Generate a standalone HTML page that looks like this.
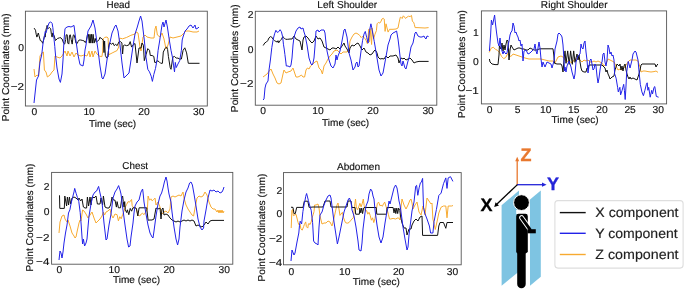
<!DOCTYPE html>
<html><head><meta charset="utf-8"><style>
html,body{margin:0;padding:0;background:#fff;}
svg{display:block;font-family:"Liberation Sans", sans-serif;filter:blur(0.3px);text-rendering:geometricPrecision;}
.t{stroke:#111111;stroke-width:0.15px;}
</style></head><body>
<svg width="685" height="290" viewBox="0 0 685 290" fill="#111111">

<clipPath id="c_head"><rect x="25.4" y="11.2" width="181.9" height="94.8"/></clipPath>
<g><g clip-path="url(#c_head)" fill="none" stroke-width="1.0" stroke-linejoin="round">
<polyline points="34,69 35,77 37,75 38.6,76 40,56 42,53 43.4,52 44.4,70 46,72 47.4,77 50,75 52,72 54,70 55,56 57,57 60,58 62,56 65,51 67,56 68,51 70,56 72,52 74,57 76,53 78,55 81,56 84,55 87,56 89,51 90,57 92,51 93,57 95,51 97,54 99.1,56 101.9,56.7 102.6,52 103.3,38.8 104.7,37.4 107,37 108.1,38 108.5,50 108.8,54.7 112.9,52.6 117.1,50.5 118.7,47 119.6,38.1 122.6,38.8 126.7,37.4 130.9,35.3 135,34 136,32 138,33 140,47 141,51 143,37 145,35 147,37 151,38 154,38 155,29 156,26 157.4,35 160,37 162,33 164,39 166,49 168,45 170,37 173,38 177,37 181,36 184,33 186,31 189,31 193,32 197,32 199,31" stroke="#f7aa30"/>
<polyline points="34.1,28.1 35.5,30.2 36.2,34.3 36.9,37.1 38.3,33 39,35.7 40.3,40.5 41.7,41.2 42.7,43.3 43.8,39.1 44.5,35.7 45.2,37.1 45.9,30.2 46.6,27.4 47.2,25.3 47.9,28.8 49.3,27.4 50.7,28.8 51.4,34.3 52.1,37.1 52.8,32.9 54.1,35.7 55.5,40.5 57.6,38.4 59.7,37.8 60,37.4 62.1,39 63.6,43.1 64.7,44.1 65.7,39.5 66.2,34.8 67.2,34.8 67.8,43.1 68.8,44.1 69.5,35.3 70.3,34.8 71.2,39.5 72.2,44.1 73.2,35.3 74,34.8 75,38.4 76,43.1 77.1,43.6 78.1,41.5 79.1,40 80.7,40 82.8,40.5 84.3,41 85.3,42.6 86.3,40.5 87.4,35.3 88.4,34.3 89.3,43.1 90,34.3 90.8,43.1 91.5,34.3 92.4,43.1 93.1,34.3 94.1,43.1 95.2,38.4 96.2,42.1 97.7,41 99.3,39.5 99.8,37.4 101.9,38.8 103.3,40.2 104,52.6 104.6,41 105.3,55.3 106.7,58.1 108.1,56.7 108.8,45.7 109.5,42.9 111.6,44.3 112.9,42.9 114.3,45.7 115.7,44.3 117.1,45.7 119.1,41.6 120.5,41.6 121.9,42.9 122.6,54 123.3,45.7 124.7,45 126.7,45.7 128.8,45 130.2,41.6 131.6,47.1 133.6,44.3 135,43.6 137,63 139,48 141,48 142,43 143.4,45.2 144.3,60.7 146,54.7 147.8,48.6 149.5,50.3 150.3,55.5 152.1,55.5 153.8,56.4 154.7,62.4 156.4,62.4 157.2,60.7 159,61.6 160.7,63.3 162.4,63.3 163.3,52.1 165,48.6 166.7,46.9 167.6,49.5 168.4,56.4 170.2,67.6 171,69.3 172.8,57.2 174.5,56.4 176.2,58.1 177.9,58.1 179.7,59 181.4,59 183.1,50.3 184.8,47.8 186.6,52.9 188.3,63.3 199.5,63.3" stroke="#111111"/>
<polyline points="34,103 36.5,80 38.5,76 40,62 41.7,55 43.1,42.6 44.5,35.7 45.2,31.6 45.9,32.9 47.2,28.8 47.9,26 49.3,22.6 50.7,21.9 52.1,23.3 52.8,27.4 53.4,32.9 54.1,39.8 54.8,46.7 55.5,55 57,68 59,79 60.4,82.4 62,74 63,60 64,40 65,28.6 67,27 69,26.5 71,27 73,26 74,25.4 76,41 78,55 80,64.6 83,66 84,60 85,50 86,45 88,31 91,26 93,20 95,28 97,43 98,50 100,66 102,78 103,79 105,74 107,60 109,47 112,33 115,26 116,25 118,31 120,45 122,63 124,78 126,76 129,73 131,60 133,46 135,34 137,28 139,21 140.6,16 142,21 144.3,40 146,57.2 147.8,69.3 149.5,71.9 151.2,76.2 152.4,81.4 153.8,74.5 155.5,68.4 157.2,59 158.1,50.3 159.8,40 160.5,35 162,25 163,22 164,27 166,20 167.4,27 169.3,40 171,50.3 172.8,59 173.6,65.9 174.5,71.9 175.3,62.4 176.2,67.6 177.9,64.1 179.7,60.7 181.4,50.3 182.2,40 183,37 185,31 187,29 189,26 191,25 193,28 195,25 196,29 198,28 199,27" stroke="#2222e8"/>
</g></g>
<rect x="25.4" y="11.2" width="181.9" height="94.8" fill="none" stroke="#555" stroke-width="0.9"/>
<text class="t" x="34.3" y="115.3" text-anchor="middle" font-size="10.0" textLength="5.73" lengthAdjust="spacingAndGlyphs" >0</text>
<text class="t" x="89.1" y="115.3" text-anchor="middle" font-size="10.0" textLength="11.45" lengthAdjust="spacingAndGlyphs" >10</text>
<text class="t" x="143.9" y="115.3" text-anchor="middle" font-size="10.0" textLength="11.45" lengthAdjust="spacingAndGlyphs" >20</text>
<text class="t" x="198.7" y="115.3" text-anchor="middle" font-size="10.0" textLength="11.45" lengthAdjust="spacingAndGlyphs" >30</text>
<text class="t" x="24.0" y="50.699999999999996" text-anchor="end" font-size="10.0" textLength="5.73" lengthAdjust="spacingAndGlyphs" >0</text>
<text class="t" x="24.0" y="89.5" text-anchor="end" font-size="10.0" textLength="13.27" lengthAdjust="spacingAndGlyphs" >−2</text>
<text class="t" x="118.3" y="7.9" text-anchor="middle" font-size="10.0" textLength="23.53" lengthAdjust="spacingAndGlyphs" >Head</text>
<text class="t" x="112.6" y="127.0" text-anchor="middle" font-size="10.0" textLength="47.08" lengthAdjust="spacingAndGlyphs" >Time (sec)</text>
<text class="t" transform="translate(8.7,67.3) rotate(-90)" text-anchor="middle" font-size="10.0" textLength="107.93" lengthAdjust="spacingAndGlyphs">Point Coordinates (mm)</text>
<clipPath id="c_ls"><rect x="255.3" y="11.3" width="181.5" height="93.9"/></clipPath>
<g><g clip-path="url(#c_ls)" fill="none" stroke-width="1.0" stroke-linejoin="round">
<polyline points="263,77 267,74 270,70 271,69 273,74 275,78 277,83 279,84 281,83 283,74 284,70 286,73 288,72 291,71 293,68 295,74 296,77 298,77 300,76 301.4,75 303,77 304.6,77 306,70 307.4,68 309,69 310.6,66 313,64 315,62 317,61 319,68 321,70 322.4,74 324,66 326,63 328,59 330,56 332,54 334,51 337,50 339,52 341,54 343,52 345,52 347,52 349,50 350,41 352,37 354,34 356,33 358,34 359.8,35.5 361.2,37.6 362.6,36.2 364.7,38.3 366,40.3 367.4,43.8 368.8,29.3 369.5,41.7 370.2,28.6 371.6,44.5 372.2,27.9 373.6,39 375,34.1 376.4,30.7 377.1,23.8 378.4,22.4 379.8,23.1 381.2,21 381.9,19 383.3,18.3 384.2,19 385.1,31.4 386,23.8 387,27.9 388.1,32.1 389.5,29.3 393,29.3 396,29 398,28 399.2,22 400.3,17.2 401.4,17.6 402.2,18.5 403.3,15.8 404.5,17 405.6,18.5 407.1,17 408.6,16.2 410.1,16.6 411.5,15.4 412.4,21.4 413.6,22.2 414.4,24.6 415.1,27.6 417,27.6 421,27.8 425,28 428.6,27.6" stroke="#f7aa30"/>
<polyline points="263.2,45.5 264.9,42.8 266.3,42.1 267.7,40.7 269,37.9 270.4,36.6 271.8,37.2 273.2,39.3 274.6,40.7 275.9,41.4 277.3,42.1 278,40.7 278.7,42.8 280.1,40.7 281.4,39.3 282.8,36.6 284.2,37.9 285.6,39.3 287.7,39.3 290,39 292,39 294,36 296,39 298,40 300,41 302,50 303,40 304,37 306,36 308,38 310,41 312,43 314,41 316,36 318,39 320,38 322,41 324,47 326,48 328,49 330,50 332,48 334,48 336,49 338,47 340,49 342,46 344,43 345,46 347,49 349,53 350,48 352,45 354,46 356,44 358,43 360,46 362,50 364,48 366,52 368,53 370,55 372,54 374,51 375,50 376,51 377,53 378,57 380,59 382,58.6 384,59 386,56 388,58 390,56 393,56 396,55 398,58 399,63 401,58 403,59 404,58 406,60 408,59 410,58 412,60 414,63 416,62 419,61.4 428.6,61.4" stroke="#111111"/>
<polyline points="263,100 264,99 265,88 266,84 268,81 269,70 270.4,60 271.8,47.6 273.2,39.3 274.6,33.8 275.9,30.3 277.3,32.4 278.7,31.7 280.1,29.7 281.4,31.7 282.6,36.6 283.5,44.8 284.2,49 284.9,54.5 285.6,60 286.3,66 288,66 290,67 291,65 292,58 293,45 294,37 296,31 298,28 300,27 301,29 303,28 304,32 305,35 307,45 309,58 311,64 312,65 313,63 314,58 315,46 316,31 318,30 319,32 321,30 324,30 325,33 326,43 327,51 329,60 331,66 333,68 335,64 336,55 337,60 338,56 340,51 342,41 344,30 345,29 347,37 349,53 351,60 353,70 355,67 356,63 357,62 358,67 359,66 361.2,50 362.6,40.3 364,34.1 365.3,31.4 366.7,37.6 368.1,43.1 369.5,30.7 370.9,23.8 371.6,27.2 372.9,34.1 374.3,41.7 375.7,50 377,58 379,70 381,76 383,73 385,62 387,51 388,45 390,39 391,35 393,33 395,32 396.6,31 398,39 399,47 400,56 401,64 402,66 403,61 405,68 406,69 408,61 409,58 411,47 413,43 415,33 416,32 418,36 420,37 422,37 424,36 425,38 426,39 427,36 428.6,36.6" stroke="#2222e8"/>
</g></g>
<rect x="255.3" y="11.3" width="181.5" height="93.9" fill="none" stroke="#555" stroke-width="0.9"/>
<text class="t" x="263.1" y="114.2" text-anchor="middle" font-size="10.0" textLength="5.73" lengthAdjust="spacingAndGlyphs" >0</text>
<text class="t" x="317.9" y="114.2" text-anchor="middle" font-size="10.0" textLength="11.45" lengthAdjust="spacingAndGlyphs" >10</text>
<text class="t" x="373.0" y="114.2" text-anchor="middle" font-size="10.0" textLength="11.45" lengthAdjust="spacingAndGlyphs" >20</text>
<text class="t" x="428.1" y="114.2" text-anchor="middle" font-size="10.0" textLength="11.45" lengthAdjust="spacingAndGlyphs" >30</text>
<text class="t" x="253.4" y="18.3" text-anchor="end" font-size="10.0" textLength="5.73" lengthAdjust="spacingAndGlyphs" >2</text>
<text class="t" x="253.4" y="52.8" text-anchor="end" font-size="10.0" textLength="5.73" lengthAdjust="spacingAndGlyphs" >0</text>
<text class="t" x="253.4" y="87.1" text-anchor="end" font-size="10.0" textLength="13.27" lengthAdjust="spacingAndGlyphs" >−2</text>
<text class="t" x="347.3" y="7.6" text-anchor="middle" font-size="10.0" textLength="59.87" lengthAdjust="spacingAndGlyphs" >Left Shoulder</text>
<text class="t" x="345.6" y="126.3" text-anchor="middle" font-size="10.0" textLength="47.08" lengthAdjust="spacingAndGlyphs" >Time (sec)</text>
<text class="t" transform="translate(238.3,58.2) rotate(-90)" text-anchor="middle" font-size="10.0" textLength="107.93" lengthAdjust="spacingAndGlyphs">Point Coordinates (mm)</text>
<clipPath id="c_rs"><rect x="481.4" y="10.9" width="185.20000000000005" height="93.0"/></clipPath>
<g><g clip-path="url(#c_rs)" fill="none" stroke-width="1.0" stroke-linejoin="round">
<polyline points="489.2,52.4 491.2,48.2 493.3,47.2 495.4,49.3 497.5,50.3 499.5,52.4 501.6,56.5 503.7,58.6 505.7,57.5 507.8,53.4 509.9,56.5 512,55.5 513,54 516,55 519,56 522,57 525,58 529,59 533,59 537,59 541,59 545,60 549,61 553,61 555,63 558,57 561,56 563,57 565,60 567,61 569,62 571,62 572,63 574,60 576,59 578,58 580,60 582,62 584,60 586,61 588,60 590,62 592,62 594,61 596,62 598,61 600,62 602,63 604,66 606,64 608,59 610,60 612,61 614,62 616,66 618,70 620,69 622,70 624,68 626,65 628,62 630,60 632,60 634,60 636,60 638,61 640,67 641,72 643,71 645,71 648,71.6 651,72 654,71.6 656,71 658,72.4" stroke="#f7aa30"/>
<polyline points="489.4,59 490,62 492,64 495,64.6 498,64.6 499,55 499.4,46 501,49 502,43 503,51 504,45 505,50 506,44 507,40 508,41 509,60 510,50 511,45 512,47 514,50 516,49 518,48 520,48 522,49 524,49 526,50 528,50 530,48 532,49 534,50 537,50 539,49 541,48.8 545,48.8 549,48.8 553,48.8 553.8,55 554.5,63.3 557,64 561,64 562,66 563,72 564,60 565,50.9 566,63.3 567.7,50.9 569.2,64.3 570.6,50.9 572.3,64.3 573.7,50.9 575,62.3 576,58 577,54 578,60 579,55 580,62 581,68 582,71 584,72 586,72 587,68 588,69 589,65 591,65 594,65 597,65 600,65 602,65 604,67 605,68 606,72 607,70 608,74 609,76 610,79 612,77 614,76 615,70 617,64 619,66 620,64 621,70 622,66 623,71 624,66 625,64 626,70 627,74 628,77 629,79 630,77 631,79 633,78 635,79 637,80 639,74 640,70 641,65 642,64 655,64 656,67 657,65 658,64" stroke="#111111"/>
<polyline points="489.4,51 490.6,35 491.4,20 492.6,25 493.4,21 494.6,15 495.4,23 496.6,33 498,43 499,46 500,38 501,47 502,51 503,54 504,51 505,53 506,54 507,53 508,46 509,41 510,35 511,32 512,31 513,23 514,26 515,33 516,32 517,35 518,37 519,41 520,40 521,46 522,44 523,61 524,51 526,50 528,54 530,53 532,51 534,49 535,44 536,51 537,54 539,42 540,48 541,59 542,67 543,62 545,67 547,62 549,63 551,64 552,68 554,61 555,49 557,41 558,34 559,33 561,35 562,37 563,45 564,60 564.5,71 565,67 566,72 567,66 569,61 571,67 572,72 574,79 575,74 576,62 578,56 580,54 581,44 582,48 583,49 584,43 585,41 586,52 587,60 588,73 589,66 590,60 591,59 592,64 593,70 594,69 595,64 596,66 597,76 598,83 599,78 600,70 601,64 602,62 603,54 604,53 605,62 606,66 607,60 608,45 609,48 610,54 611,52 612,56 613,55 614,60 614.6,73.7 616.1,78.2 617.6,87.3 618.3,91.9 619.9,87.3 620.6,94.9 622.1,90.3 623.7,84.3 624.4,90.3 625.2,99.5 625.9,88 626.7,72.1 628.2,61.5 629,64 630,68 631,64 632,60 633,54 635,51 636,52 637,56 638,60 638.8,69.1 640.3,84.3 641.9,91.9 643.4,95.7 644.9,90.3 646.4,84.3 647.2,82.8 647.9,90.3 648.7,87.3 650.2,97.2 651.7,90.3 652.5,94 654,87.3 654.8,86.6 656.3,96.4 658.6,97.2" stroke="#2222e8"/>
</g></g>
<rect x="481.4" y="10.9" width="185.2" height="93.0" fill="none" stroke="#555" stroke-width="0.9"/>
<text class="t" x="489.6" y="113.2" text-anchor="middle" font-size="10.0" textLength="5.73" lengthAdjust="spacingAndGlyphs" >0</text>
<text class="t" x="517.7" y="113.2" text-anchor="middle" font-size="10.0" textLength="5.73" lengthAdjust="spacingAndGlyphs" >5</text>
<text class="t" x="545.8" y="113.2" text-anchor="middle" font-size="10.0" textLength="11.45" lengthAdjust="spacingAndGlyphs" >10</text>
<text class="t" x="573.8" y="113.2" text-anchor="middle" font-size="10.0" textLength="11.45" lengthAdjust="spacingAndGlyphs" >15</text>
<text class="t" x="602.0" y="113.2" text-anchor="middle" font-size="10.0" textLength="11.45" lengthAdjust="spacingAndGlyphs" >20</text>
<text class="t" x="630.1" y="113.2" text-anchor="middle" font-size="10.0" textLength="11.45" lengthAdjust="spacingAndGlyphs" >25</text>
<text class="t" x="658.2" y="113.2" text-anchor="middle" font-size="10.0" textLength="11.45" lengthAdjust="spacingAndGlyphs" >30</text>
<text class="t" x="478.8" y="36.4" text-anchor="end" font-size="10.0" textLength="5.73" lengthAdjust="spacingAndGlyphs" >1</text>
<text class="t" x="478.8" y="65.3" text-anchor="end" font-size="10.0" textLength="5.73" lengthAdjust="spacingAndGlyphs" >0</text>
<text class="t" x="478.8" y="94.3" text-anchor="end" font-size="10.0" textLength="13.27" lengthAdjust="spacingAndGlyphs" >−1</text>
<text class="t" x="574.2" y="7.6" text-anchor="middle" font-size="10.0" textLength="66.64" lengthAdjust="spacingAndGlyphs" >Right Shoulder</text>
<text class="t" x="575.1" y="122.7" text-anchor="middle" font-size="10.0" textLength="47.08" lengthAdjust="spacingAndGlyphs" >Time (sec)</text>
<text class="t" transform="translate(464.6,64.0) rotate(-90)" text-anchor="middle" font-size="10.0" textLength="107.93" lengthAdjust="spacingAndGlyphs">Point Coordinates (mm)</text>
<clipPath id="c_chest"><rect x="51.6" y="172.4" width="181.20000000000002" height="91.79999999999998"/></clipPath>
<g><g clip-path="url(#c_chest)" fill="none" stroke-width="1.0" stroke-linejoin="round">
<polyline points="59,233 60,222 62,216 64,215 65,219 67,222 68,220 70,226 72,233 74,236 75,238 76,237 77,232 79,223 80,220 81,221 82.6,210 84,211 86,214 88,218 90,215 92,212 94,218 96,223 98,221 100,219 102,216 103.4,212 104.6,215 106,212 108,211 110,209 111,214 112,216 113,218 115,214 117.1,214.7 118.4,220.9 119.8,216.7 121.2,218.8 122.6,214.7 124,211.2 125.3,207.1 126.7,204.3 128.1,201.6 129.5,202.2 130.9,200.2 131.6,199.5 132.2,205.7 133.6,207.8 135,207.1 136.4,209.1 137.8,214.7 139.8,216 141.2,214 142.6,213.3 144,214.7 145.3,212.6 147.4,209.1 148.1,196 149.5,200.2 150.9,198.8 152.2,200.9 153.6,199.5 155,198.1 156,205 158,202 160,207 162,214 164,212 166,211 168,213 170,209 171,197 173,196 175,197 177,196 179,195 181,196 183,192 184,198 186,205 188,209 190,212 192,215 193.6,216 195,208 197,198 199,196 201,197 203,196 205,192 207,195 209,202 211,207 213,209 215,209 217,212 218,210 219,213 220,210 221,213 222,210 223,213 224,211" stroke="#f7aa30"/>
<polyline points="59.5,195.3 59.8,208.4 62,208.4 64.3,208.4 64.8,196 66.6,206 67.4,197 68.6,205 69.4,197 70.6,204 72,198 74,197 76,198 78,200 79,198 80.6,201 82,199 83.4,207 85,208 86.6,208 87.4,197 88.6,206 90,197 91,205 92,197 93,197 94,198 96,196 97.4,204 100,204 101,198 102.6,205 103.4,196 105,207 107,208 109,208 110.6,205 112,197 113.4,200 115,200.2 116.4,207.1 117.1,201.6 118.4,207.8 120.5,207.8 121.9,197.4 122.6,196 123.3,201.6 124,207.1 124.7,201.6 125.3,209.8 126.7,212.6 127.4,209.8 128.8,214.7 130.2,208.4 131.6,211.2 132.9,207.8 135,207.8 136.4,208.4 137.8,216 139.1,207.8 142,207.8 146.7,207.8 148.1,220.2 150,220 152,220 154,219 156,208 158,209 160,208 161,219 162,209 163,208 164,215 166,214 168,215 170,218 172,220 174,221 176,222 178,221 180,222 182,221 184,220 186,221 188,220 190,221 192,220 194,221 196,226 198,225 200,226 202,227 204,225 206,222 208,224 210,221 212,220.4 224,220.4" stroke="#111111"/>
<polyline points="59,260 60,251 61,253 62,258 63,252 64,243 65.5,233 67,225 68.5,213 69.9,209.8 71.2,203 72.6,197.4 74,191.9 74.7,188.4 76.1,193.3 77.4,197.4 78.8,201.6 80.2,212.6 81.2,225 82,237 82.6,244 83.4,239 84.6,246 86,243 87,239 88,227 89,216 91,204 93,195 95,192 96.6,191 98.6,186.4 100,193 102,202 104,223 106,240 107,239 109,225 111,214 113,198 115,192 117,189 118.6,185.6 120,190 121,194 123,210 125,225 127,239 128.6,247 130,246 131,237 133,223 134,213 135,206 137,202 139,200 141,192 142.6,189 143,192 144,202 146,214 148,225 150,233 152,237 153,238 154,231 156,216 158,204 160,196 161.6,193 163,188 164.4,182 166,177 167,181 168,188 169,194 171,202 172,212 174,227 176,239 177.6,245 179,239 180,227 182,211 184,200 186,192 188,188 189.6,183 191,182 192.4,185 194,194 196,206 198,219 200,227 202,230 203.6,228 204,221 206,210 208,198 210,190 212,191 214,190 216,192 218,191 220,193 222,192 223,190 224,187" stroke="#2222e8"/>
</g></g>
<rect x="51.6" y="172.4" width="181.2" height="91.8" fill="none" stroke="#555" stroke-width="0.9"/>
<text class="t" x="59.4" y="273.4" text-anchor="middle" font-size="10.0" textLength="5.73" lengthAdjust="spacingAndGlyphs" >0</text>
<text class="t" x="114.3" y="273.4" text-anchor="middle" font-size="10.0" textLength="11.45" lengthAdjust="spacingAndGlyphs" >10</text>
<text class="t" x="169.1" y="273.4" text-anchor="middle" font-size="10.0" textLength="11.45" lengthAdjust="spacingAndGlyphs" >20</text>
<text class="t" x="224.3" y="273.4" text-anchor="middle" font-size="10.0" textLength="11.45" lengthAdjust="spacingAndGlyphs" >30</text>
<text class="t" x="49.4" y="190.20000000000002" text-anchor="end" font-size="10.0" textLength="5.73" lengthAdjust="spacingAndGlyphs" >2</text>
<text class="t" x="49.4" y="215.0" text-anchor="end" font-size="10.0" textLength="5.73" lengthAdjust="spacingAndGlyphs" >0</text>
<text class="t" x="49.4" y="240.5" text-anchor="end" font-size="10.0" textLength="13.27" lengthAdjust="spacingAndGlyphs" >−2</text>
<text class="t" x="49.4" y="265.40000000000003" text-anchor="end" font-size="10.0" textLength="13.27" lengthAdjust="spacingAndGlyphs" >−4</text>
<text class="t" x="135.2" y="169.4" text-anchor="middle" font-size="10.0" textLength="25.74" lengthAdjust="spacingAndGlyphs" >Chest</text>
<text class="t" x="136.5" y="283.2" text-anchor="middle" font-size="10.0" textLength="47.08" lengthAdjust="spacingAndGlyphs" >Time (sec)</text>
<text class="t" transform="translate(33.0,217.6) rotate(-90)" text-anchor="middle" font-size="10.0" textLength="107.93" lengthAdjust="spacingAndGlyphs">Point Coordinates (mm)</text>
<clipPath id="c_abd"><rect x="283.5" y="172.6" width="177.7" height="92.20000000000002"/></clipPath>
<g><g clip-path="url(#c_abd)" fill="none" stroke-width="1.0" stroke-linejoin="round">
<polyline points="291.2,228 291.9,210.2 292.6,209.5 293.3,215.7 294.7,215 296,214.3 296.7,217 298.1,222.6 298.8,224.7 300,224 300.9,228.8 302.2,230.2 303.6,226.7 304.3,224.7 305.7,221.9 306.4,226.7 307.8,228.1 308.4,224 309.1,223.3 309.8,224.7 311.2,221.9 311.9,218.4 313.3,214.3 314,211.6 314.6,205 316,205 318,204 319,208 320,216 322,224 324,223 326,223 328,221 330,222 332,226 334,218 336,209 337,205 338,203 340,215.4 342.4,212.3 343.6,217.8 345.4,222.6 347.2,223.2 349,222.6 350.9,220.2 352.1,219 353.3,217.8 354.5,206.9 355.5,199 356.3,206.9 357.5,209.9 358.7,206.9 359.9,203.3 361.1,206.9 362.3,203.3 363.3,199 364.2,205.7 365.4,211.1 366.6,210.5 367.8,214.2 369,212.3 370.2,215.4 371.4,220.2 372.6,217.8 373.8,222.6 375,218.4 376.2,210.5 377.4,203.3 378.6,202.1 379.9,205.7 381.1,205.1 382.3,206.3 383.5,203.9 384.7,202.1 385.9,206.3 387.1,209.3 388.3,214.2 389.5,219 390.7,219 393.1,218.4 395.6,219 398,217.8 399.8,219 400,220 401,207 402,199 404,205 406,209 408,205 410,200 411,199 412,203 413,209 415,205 417,202 419,212 421,215 423,206 424,209 425,215 427,198 429,201 431,204 432,203 432.9,219 435.3,229.5 437.6,219 438.8,213 441.1,207.2 443.5,206 445.8,206 447,217.8 448.2,206 451.7,206 453,205.5" stroke="#f7aa30"/>
<polyline points="291,207.2 293,207.4 294,213.6 295.3,213.6 296.7,207.4 303,207.4 304.3,201.2 307.8,201.2 309.1,207.4 313,207 323,207 325,201 330,201 331,207 347,207 348,201 351,201 352,207.5 355.1,207.5 355.7,214.2 359.3,214.2 359.9,208.1 360.8,212.9 361.7,208.1 362.6,213.6 363.6,208.1 364.2,207.5 376.2,207.5 376.8,214.2 386.5,214.2 387.1,207.5 393.1,207.5 394,212.9 395,208.1 395.8,213.6 396.8,208.1 397.7,213.6 398.6,208.1 399.8,210.5 400.5,216 402,223 404,228 406,228 407,235 409,229 411,229 412,225 414,221 416,219 418,221 420,217 422,216 422.6,235.4 437.6,235.4 438.8,226 440,222.5 443.5,222.5 445.8,228.3 447,222.5 453,222.5" stroke="#111111"/>
<polyline points="291,261 292,250 294,255 295,253 297,242 298.8,233 299.5,225.3 300.2,221.2 301.6,224 302.9,211.6 304.3,203.3 305,200.5 305.7,196.4 306.6,193.5 308.4,200.5 309.8,206 311.2,210.2 312.6,222.6 313.3,235 313.6,241 315,243 317,244 318,245 319,227 320,215 322,212 324,205 326,200 328,196 330,195 331,198 332,206 334,222 336,235 337.4,244 339,237 341,227 343,217 344,212 346,206 348,200 349.4,198 351,202 352,210 354,216 356,227 358,241 359,250 361,251 362,243 363,229 365,213 366,206 368,201 369,194 370.6,189 372,191 373,196 374,199 375,210 377,225 379,237 381,243 383,237 385,223 387,211 388,208 389,201 390,204 392,196 394,188 395.6,185 397,188 398,194 399,201 400,205 401,212 403,227 405,239 407,250 408,247 409,235 411,219 412,211 414,202 415.7,186.2 416.6,185.3 417.8,195.3 419.1,187.9 420.4,182.8 421.3,182.3 422.6,178.4 423.1,195 423.5,207.2 424.7,213 427,219 429.4,226 430.6,233 432.9,233 434.1,221.3 436.4,209.6 438.8,195.5 441.1,193.1 443.5,183.7 445.8,177.9 447,188.4 448.2,177.9 450.5,176.7 452.9,181.4" stroke="#2222e8"/>
</g></g>
<rect x="283.5" y="172.6" width="177.7" height="92.2" fill="none" stroke="#555" stroke-width="0.9"/>
<text class="t" x="291.3" y="274.5" text-anchor="middle" font-size="10.0" textLength="5.73" lengthAdjust="spacingAndGlyphs" >0</text>
<text class="t" x="344.8" y="274.5" text-anchor="middle" font-size="10.0" textLength="11.45" lengthAdjust="spacingAndGlyphs" >10</text>
<text class="t" x="398.6" y="274.5" text-anchor="middle" font-size="10.0" textLength="11.45" lengthAdjust="spacingAndGlyphs" >20</text>
<text class="t" x="452.4" y="274.5" text-anchor="middle" font-size="10.0" textLength="11.45" lengthAdjust="spacingAndGlyphs" >30</text>
<text class="t" x="282.3" y="194.20000000000002" text-anchor="end" font-size="10.0" textLength="5.73" lengthAdjust="spacingAndGlyphs" >2</text>
<text class="t" x="282.3" y="217.3" text-anchor="end" font-size="10.0" textLength="5.73" lengthAdjust="spacingAndGlyphs" >0</text>
<text class="t" x="282.3" y="242.10000000000002" text-anchor="end" font-size="10.0" textLength="13.27" lengthAdjust="spacingAndGlyphs" >−2</text>
<text class="t" x="282.3" y="266.3" text-anchor="end" font-size="10.0" textLength="13.27" lengthAdjust="spacingAndGlyphs" >−4</text>
<text class="t" x="358.5" y="169.9" text-anchor="middle" font-size="10.0" textLength="43.10" lengthAdjust="spacingAndGlyphs" >Abdomen</text>
<text class="t" x="376.4" y="284.5" text-anchor="middle" font-size="10.0" textLength="47.08" lengthAdjust="spacingAndGlyphs" >Time (sec)</text>
<text class="t" transform="translate(265.0,227.6) rotate(-90)" text-anchor="middle" font-size="10.0" textLength="107.93" lengthAdjust="spacingAndGlyphs">Point Coordinates (mm)</text>
<rect x="554.9" y="200.6" width="128.2" height="67.5" rx="3" fill="#fff" stroke="#dedede" stroke-width="1.1"/>
<line x1="559.8" y1="212.6" x2="585.7" y2="212.6" stroke="#111" stroke-width="1.4"/>
<text fill="#222" stroke="#222" stroke-width="0.15" x="595.3" y="217.29999999999998" font-size="13.6" textLength="83.25" lengthAdjust="spacingAndGlyphs">X component</text>
<line x1="559.8" y1="233.3" x2="585.7" y2="233.3" stroke="#2222e8" stroke-width="1.4"/>
<text fill="#222" stroke="#222" stroke-width="0.15" x="595.3" y="238.0" font-size="13.6" textLength="82.33" lengthAdjust="spacingAndGlyphs">Y component</text>
<line x1="559.8" y1="254.5" x2="585.7" y2="254.5" stroke="#f7aa30" stroke-width="1.4"/>
<text fill="#222" stroke="#222" stroke-width="0.15" x="595.3" y="259.2" font-size="13.6" textLength="83.25" lengthAdjust="spacingAndGlyphs">Z component</text>

<polygon points="501.6,205.3 519,190.6 519,271.5 501.6,285.8" fill="#7ec4e2"/>
<polygon points="530,199.4 540.8,190.4 540.8,276.7 530,285.8" fill="#7ec4e2"/>
<rect x="516.2" y="210" width="11.6" height="4" fill="#fff"/>
<circle cx="521.5" cy="202.6" r="7.9" fill="#000" stroke="#fff" stroke-width="1"/>
<clipPath id="torso"><path d="M516.2,216.2 Q516.2,213.8 518.6,213.8 H525.4 Q527.8,213.8 527.8,216.2 V252 L525.7,253.6 V284 A4.25,4.25 0 0 1 517.2,284 V253.6 L516.2,252 Z"/></clipPath>
<path d="M516.2,216.2 Q516.2,213.8 518.6,213.8 H525.4 Q527.8,213.8 527.8,216.2 V252 L525.7,253.6 V284 A4.25,4.25 0 0 1 517.2,284 V253.6 L516.2,252 Z" fill="#000"/>
<path d="M521.6,217.6 L530,229.3" stroke="#fff" stroke-width="4.9" stroke-linecap="round" clip-path="url(#torso)"/>
<path d="M521.6,217.6 L530,229.3" stroke="#000" stroke-width="2.9" stroke-linecap="round"/>
<rect x="527.6" y="229.2" width="8.2" height="4.1" fill="#000"/>
<line x1="517.2" y1="185" x2="517.2" y2="160" stroke="#e8782e" stroke-width="1.3"/>
<polygon points="517.2,156.8 515.2,161.2 519.2,161.2" fill="#e8782e"/>
<line x1="517" y1="184.7" x2="542.5" y2="184.7" stroke="#2424d8" stroke-width="1.3"/>
<polygon points="546.6,184.7 542,182.6 542,186.8" fill="#2424d8"/>
<line x1="517.4" y1="184.6" x2="497" y2="204" stroke="#000" stroke-width="1.3"/>
<polygon points="494.2,206.9 495.6,202.2 499,205.5" fill="#000"/>
<text x="520.6" y="161.4" font-size="18" font-weight="bold" fill="#e8782e" stroke="#e8782e" stroke-width="0.3">Z</text>
<text x="547.1" y="189.6" font-size="18" font-weight="bold" fill="#2424d8" stroke="#2424d8" stroke-width="0.3">Y</text>
<text x="480.6" y="210.6" font-size="18" font-weight="bold" fill="#000" stroke="#000" stroke-width="0.3">X</text>

</svg></body></html>
